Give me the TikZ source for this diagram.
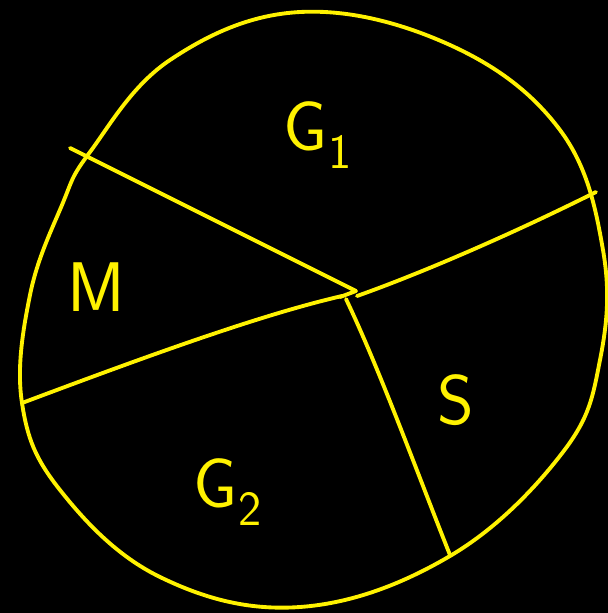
\documentclass[tikz,border=0pt]{standalone}
\usepackage{amsmath}
\usetikzlibrary{calc}

\begin{document}
\begin{tikzpicture}[x=0.02cm, y=-0.02cm, line width=2.2pt, line cap=round, line join=round,
  chalk/.style={draw=yellow},
  region/.style={text=yellow, font=\sffamily\fontsize{40}{40}\selectfont, inner sep=0pt}]
  % background
  \fill[black] (0,0) rectangle (608,613);
  \useasboundingbox (0,0) rectangle (608,613);
  % outer boundary
  \draw[chalk] plot[smooth cycle, tension=0.65] coordinates {
    (300,12) (450,45) (560,130) (603,250) (600,360) (563,452) (450,556)
    (300,607) (160,577) (60,490) (22,403) (30,295) (62,205) (90,152) (170,60)};
  % points on the boundary and inner junction
  \coordinate (TL) at (70,148);
  \coordinate (L) at (22,403);
  \coordinate (R) at (596,192);
  \coordinate (B) at (450,555);
  \coordinate (C) at (356,291);
  \coordinate (D) at (346,299);
  % dividing lines
  \draw[chalk] (TL) -- (C) -- (340,297);
  \draw[chalk] (L) .. controls (150,355) and (260,315) .. (342,296);
  \draw[chalk] (357,296) .. controls (430,270) and (520,230) .. (R);
  \draw[chalk] (D) .. controls (380,370) and (420,480) .. (B);
  % region labels
  \node[region] (g1) at (318,135) {G\textsubscript{1}};
  \node[region] (m) at (96,287) {M};
  \node[region] (g2) at (228,492) {G\textsubscript{2}};
  \node[region] (s) at (456,400) {S};
\end{tikzpicture}
\end{document}
